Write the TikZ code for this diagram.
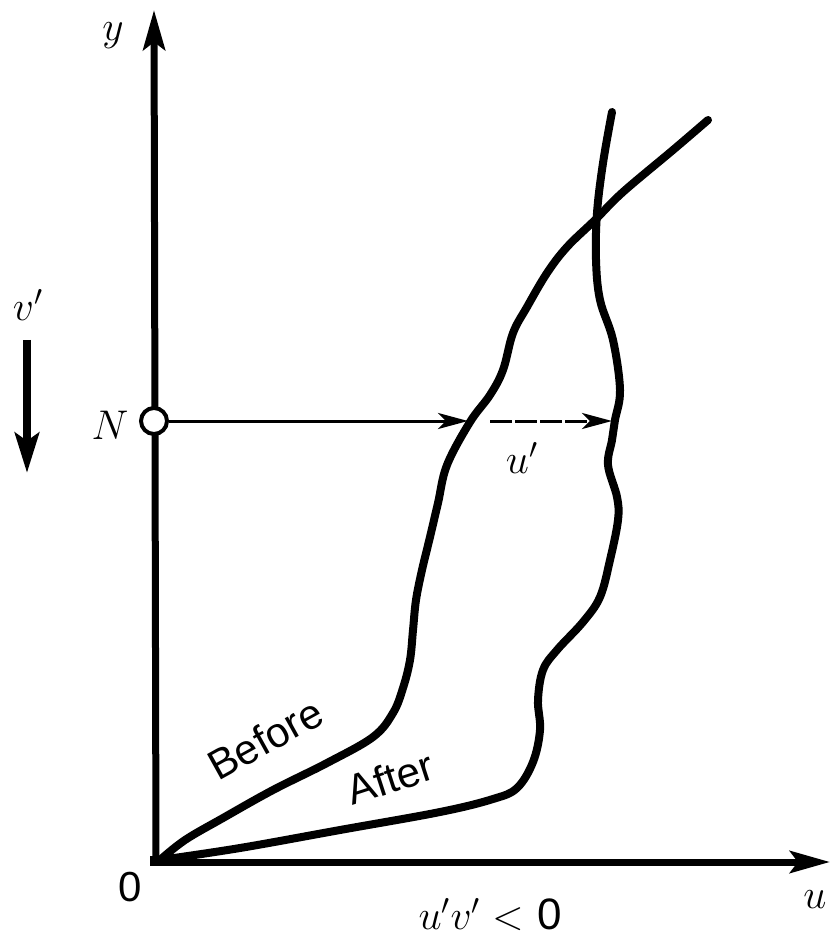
\documentclass[tikz,border=0pt]{standalone}
\usepackage{fontspec}
\newfontfamily\hv{Liberation Sans}
\usetikzlibrary{arrows.meta}
\begin{document}
\begin{tikzpicture}[x=0.5pt,y=-0.5pt,
  curve/.style={line width=4pt, line cap=round, line join=round},
  axisline/.style={line width=3.5pt, -{Stealth[length=20pt,width=11pt,inset=4pt]}},
  thinarrow/.style={line width=1.5pt, -{Stealth[length=15pt,width=8pt,inset=4pt]}},
  lbl/.style={inner sep=0pt, font=\fontsize{22}{26}\selectfont},
  sanslbl/.style={inner sep=0pt, font=\hv\fontsize{21}{25}\selectfont}]
\useasboundingbox (0,0) rectangle (832,940);
% axes
\coordinate (O) at (156,862);
\coordinate (ytip) at (154,10);
\coordinate (xtip) at (830,862);
\draw[axisline] (O) -- (ytip);
\draw[axisline] (O) -- (xtip);
\fill (150,856) rectangle (162,866);
% horizontal arrows at N
\coordinate (hitB) at (468,421);
\coordinate (dashS) at (490,421);
\coordinate (hitA) at (612,421);
\node[circle, draw, fill=white, line width=2pt, minimum size=13pt, inner sep=0pt] (Nc) at (154,421) {};
\draw[thinarrow] (Nc.east) -- (hitB);
\draw[thinarrow, dash pattern=on 11pt off 1.5pt] (dashS) -- (hitA);
% curves
\draw[curve] plot[smooth, tension=0.6] coordinates {
(160,860) (185,840) (223,818) (273,790) (327,763) (373,737) (393,713) (403,688) (410,660) (413,630) (416,600) (422,570) (430,537) (438,503) (447,465) (470,422) (490,395) (503,370) (513,333) (527,307) (547,273) (567,247) (595,220) (623,192) (673,150) (708,120)};
\draw[curve] plot[smooth, tension=0.6] coordinates {
(160,860) (240,848) (340,830) (440,812) (493,799) (517,788) (533,762) (540,730) (538,700) (543,670) (557,650) (583,622) (600,597) (610,560) (618,520) (617,497) (608,465) (612,440) (615,420) (620,390) (613,340) (600,300) (596,260) (597,213) (603,163) (612,112)};
% v' arrow
\coordinate (vtop) at (27,340);
\coordinate (vtip) at (27,473);
\draw[line width=4pt, -{Stealth[length=20pt,width=12pt,inset=4pt]}] (vtop) -- (vtip);
% labels
\node[lbl] (ylab) at (113,36) {$y$};
\node[lbl] (vlab) at (28,305) {$v'$};
\node[lbl] (Nlab) at (110,425) {$N$};
\node[lbl] (ulab) at (522,458) {$u'$};
\node[sanslbl] (zero) at (130,887) {0};
\node[lbl] (uax) at (815,900) {$u$};
\node[lbl] (prod) at (490,915) {$u'v' <$ {\hv 0}};
\node[sanslbl, anchor=base west, rotate=29] (before) at (218,782) {Before};
\node[sanslbl, anchor=base west, rotate=18] (after) at (352,806) {After};
\end{tikzpicture}
\end{document}
